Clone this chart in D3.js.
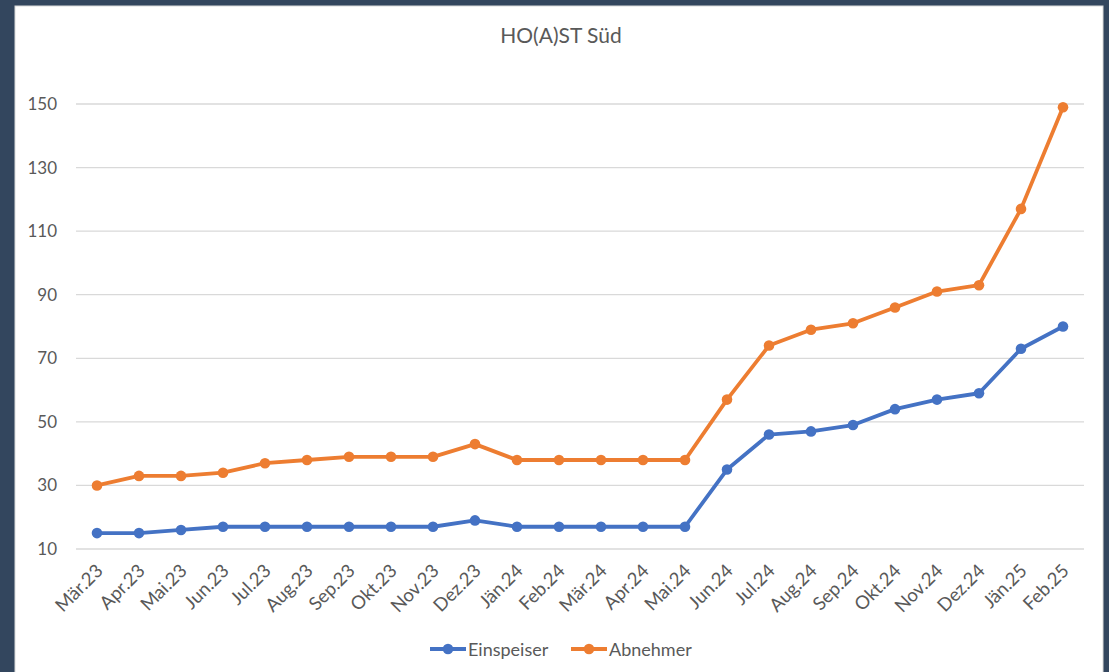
<!DOCTYPE html>
<html>
<head>
<meta charset="utf-8">
<script src="https://cdn.jsdelivr.net/npm/d3@7"></script>
<style>
  html, body { margin: 0; padding: 0; background: #33465e; }
  svg { display: block; font-family: Lato, "Open Sans", sans-serif; }
</style>
</head>
<body>
<svg></svg>
<script>
let months = ['Mär.23','Apr.23','Mai.23','Jun.23','Jul.23','Aug.23','Sep.23','Okt.23','Nov.23','Dez.23',
              'Jän.24','Feb.24','Mär.24','Apr.24','Mai.24','Jun.24','Jul.24','Aug.24','Sep.24','Okt.24',
              'Nov.24','Dez.24','Jän.25','Feb.25']
let einspeiser = [15,15,16,17,17,17,17,17,17,19,17,17,17,17,17,35,46,47,49,54,57,59,73,80]
let abnehmer = [30,33,33,34,37,38,39,39,39,43,38,38,38,38,38,57,74,79,81,86,91,93,117,149]
let yTicks = [10,30,50,70,90,110,130,150]

let width = 1109
let height = 672
let plotLeft = 76, plotRight = 1084, plotTop = 104, plotBottom = 549

let svg = d3.select('svg').attr('width', width).attr('height', height)

// white chart panel
svg.append('rect')
   .attr('x', 15).attr('y', 6)
   .attr('width', 1088).attr('height', 670)
   .attr('fill', '#fff')
   .attr('stroke', '#d9d9d9')

let xScale = d3.scaleBand().domain(months).range([plotLeft, plotRight])
let yScale = d3.scaleLinear().domain([10, 150]).range([plotBottom, plotTop])

// gridlines
svg.append('g')
   .selectAll('line')
   .data(yTicks)
   .enter()
   .append('line')
   .attr('x1', plotLeft).attr('x2', plotRight)
   .attr('y1', d => yScale(d)).attr('y2', d => yScale(d))
   .attr('stroke', '#d9d9d9')
   .attr('stroke-width', 1.3)

// y axis labels
let yAxis = d3.axisLeft(yScale).tickValues(yTicks).tickSize(0).tickPadding(0)
let gy = svg.append('g')
   .attr('transform', 'translate(57,0)')
   .call(yAxis)
gy.select('.domain').remove()
gy.selectAll('text')
  .attr('fill', '#595959')
  .style('font-size', '17px')
  .style('font-family', 'Lato, sans-serif')

// x axis labels
let xAxis = d3.axisBottom(xScale).tickSize(0).tickPadding(0)
let gx = svg.append('g')
   .attr('transform', 'translate(0,' + plotBottom + ')')
   .call(xAxis)
gx.select('.domain').remove()
gx.selectAll('text')
  .attr('fill', '#595959')
  .style('font-size', '18.5px')
  .style('font-family', 'Lato, sans-serif')
  .attr('text-anchor', 'end')
  .attr('dy', 0)
  .attr('transform', 'translate(7,23) rotate(-45)')

// title
svg.append('text')
   .attr('x', 561).attr('y', 43)
   .attr('text-anchor', 'middle')
   .attr('fill', '#595959')
   .style('font-size', '21px')
   .text('HO(A)ST Süd')

let series = [
  { name: 'Einspeiser', values: einspeiser, color: '#4472c4' },
  { name: 'Abnehmer', values: abnehmer, color: '#ed7d31' }
]

let cx = (d, i) => xScale(months[i]) + xScale.bandwidth() / 2

let line = d3.line()
   .x(cx)
   .y(d => yScale(d))

series.forEach(s => {
  svg.append('path')
     .datum(s.values)
     .attr('d', line)
     .attr('fill', 'none')
     .attr('stroke', s.color)
     .attr('stroke-width', 3.8)
     .attr('stroke-linejoin', 'round')
     .attr('stroke-linecap', 'round')

  svg.append('g')
     .selectAll('circle')
     .data(s.values)
     .enter()
     .append('circle')
     .attr('cx', cx)
     .attr('cy', d => yScale(d))
     .attr('r', 5.3)
     .attr('fill', s.color)
})

// legend
let legend = svg.append('g').attr('transform', 'translate(0,649)')
let legendX = [430, 571]
series.forEach((s, i) => {
  let g = legend.append('g').attr('transform', 'translate(' + legendX[i] + ',0)')
  g.append('line')
   .attr('x1', 0).attr('x2', 36)
   .attr('stroke', s.color).attr('stroke-width', 3.8)
  g.append('circle').attr('cx', 18).attr('r', 5.3).attr('fill', s.color)
  g.append('text')
   .attr('x', 38).attr('y', 6.5)
   .attr('fill', '#595959')
   .style('font-size', '18px')
   .text(s.name)
})
</script>
</body>
</html>
